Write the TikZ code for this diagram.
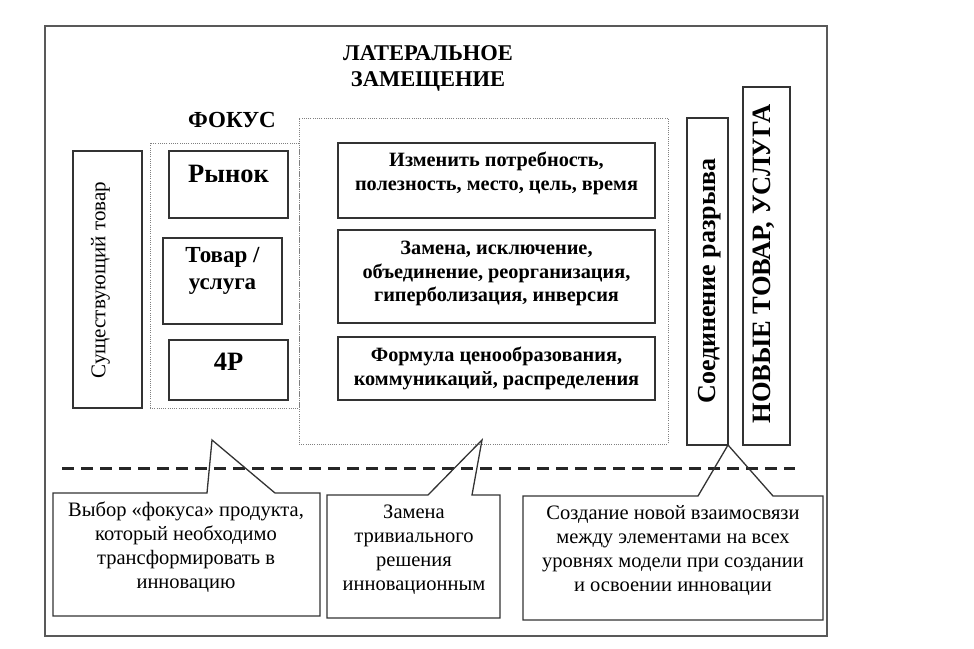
\documentclass[tikz,border=0pt]{standalone}
\usepackage{fontspec}
\setmainfont{Liberation Serif}
\begin{document}
\begin{tikzpicture}[x=1pt,y=-1pt,
  box/.style={draw=black!80, line width=1.3pt, inner sep=0pt, outer sep=0pt},
  dotbox/.style={draw=black!50, line width=0.9pt, dash pattern=on 1pt off 1.2pt, inner sep=0pt, outer sep=0pt},
  plain/.style={draw=none, inner sep=0pt, outer sep=0pt},
  outline/.style={draw=black!80, line width=1.3pt, line join=miter},
  titletxt/.style={inner sep=0pt, align=center, font=\bfseries\fontsize{22.5}{26}\selectfont},
  bigtxt/.style={inner sep=0pt, align=center, font=\bfseries\fontsize{26.5}{30}\selectfont},
  midtxt/.style={inner sep=0pt, align=center, font=\bfseries\fontsize{23}{27}\selectfont},
  boldtxt/.style={inner sep=0pt, align=center, font=\bfseries\fontsize{20.3}{23.3}\selectfont},
  regtxt/.style={inner sep=0pt, align=center, font=\fontsize{20.5}{24}\selectfont},
]
\useasboundingbox (0,0) rectangle (974,648);
% outer frame
\node[draw=black!65, line width=1.6pt, inner sep=0pt, minimum width=782pt, minimum height=610pt] (frame) at (436,331) {};
% title
\node[titletxt] (title) at (428,68) {ЛАТЕРАЛЬНОЕ\\ЗАМЕЩЕНИЕ};
\node[inner sep=0pt, font=\bfseries\fontsize{23}{26}\selectfont] (focuslbl) at (232,120) {ФОКУС};
% existing product
\node[box, minimum width=69pt, minimum height=257pt] (exist) at (107.5,279.5) {};
\node[inner sep=0pt, rotate=90, font=\fontsize{21}{24}\selectfont] (existtxt) at (100.5,280) {Существующий товар};
% focus group
\node[dotbox, minimum width=149pt, minimum height=265pt] (focus) at (224.5,275.5) {};
\node[box, minimum width=119pt, minimum height=67pt] (market) at (228.5,184.5) {};
\node[bigtxt] (markettxt) at (228.5,174) {Рынок};
\node[box, minimum width=119pt, minimum height=86pt] (goods) at (222.5,281) {};
\node[midtxt] (goodstxt) at (222.5,271) {Товар /\\услуга};
\node[box, minimum width=119pt, minimum height=60pt] (fourp) at (228.5,370) {};
\node[bigtxt] (fourptxt) at (228.5,362) {4P};
% techniques group
\node[dotbox, minimum width=369pt, minimum height=326pt] (tech) at (483.5,281) {};
\node[box, minimum width=317pt, minimum height=75pt] (t1) at (496.5,180.5) {};
\node[boldtxt] (t1txt) at (496.5,173.5) {Изменить потребность,\\полезность, место, цель, время};
\node[box, minimum width=317pt, minimum height=93pt] (t2) at (496.5,276.5) {};
\node[boldtxt] (t2txt) at (496.5,273.5) {Замена, исключение,\\объединение, реорганизация,\\гиперболизация, инверсия};
\node[box, minimum width=317pt, minimum height=63pt] (t3) at (496.5,368.5) {};
\node[boldtxt] (t3txt) at (496.5,368.5) {Формула ценообразования,\\коммуникаций, распределения};
% gap connection
\node[box, minimum width=41pt, minimum height=327pt] (conn) at (707.5,281.5) {};
\node[inner sep=0pt, rotate=90, font=\bfseries\fontsize{26}{28}\selectfont] (conntxt) at (710,281) {Соединение разрыва};
\node[box, minimum width=47pt, minimum height=358pt] (newp) at (766.5,266) {};
\node[inner sep=0pt, rotate=90, font=\bfseries\fontsize{26.5}{30}\selectfont] (newptxt) at (764,264) {НОВЫЕ ТОВАР, УСЛУГА};
% dashed separator
\coordinate (dl) at (62,468);
\coordinate (dr) at (795,468);
\draw[black!85, line width=3pt, dash pattern=on 12pt off 7pt] (dl) -- (dr);
% callouts
\node[plain, minimum width=267pt, minimum height=123pt] (ca) at (186.5,554.5) {};
\node[plain, minimum width=173pt, minimum height=123pt] (cb) at (413.5,556.5) {};
\node[plain, minimum width=300pt, minimum height=124pt] (cc) at (673,558) {};
\coordinate (aL) at (207,493);
\coordinate (aR) at (275,493);
\coordinate (aT) at (212,440);
\coordinate (bL) at (428,495);
\coordinate (bR) at (472,495);
\coordinate (bT) at (482,440);
\coordinate (cL) at (698,496);
\coordinate (cR) at (773,496);
\draw[outline] (ca.north west) -- (aL) -- (aT) -- (aR) -- (ca.north east) -- (ca.south east) -- (ca.south west) -- cycle;
\draw[outline] (cb.north west) -- (bL) -- (bT) -- (bR) -- (cb.north east) -- (cb.south east) -- (cb.south west) -- cycle;
\draw[outline] (cc.north west) -- (cL) -- (conn.south east) -- (cR) -- (cc.north east) -- (cc.south east) -- (cc.south west) -- cycle;
\node[regtxt] (catxt) at (186,547.5) {Выбор «фокуса» продукта,\\который необходимо\\трансформировать в\\инновацию};
\node[regtxt] (cbtxt) at (414,549.5) {Замена\\тривиального\\решения\\инновационным};
\node[regtxt] (cctxt) at (673,550) {Создание новой взаимосвязи\\между элементами на всех\\уровнях модели при создании\\и освоении инновации};
\end{tikzpicture}
\end{document}
